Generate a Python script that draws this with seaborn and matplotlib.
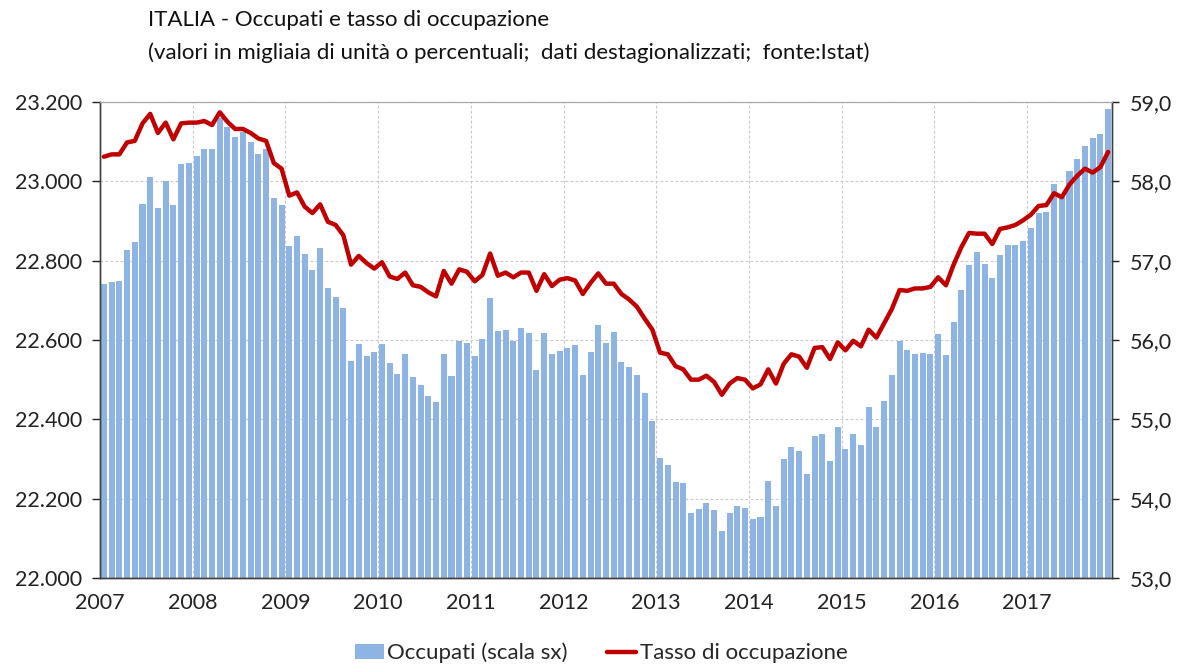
import numpy as np
import pandas as pd
import matplotlib
matplotlib.use("Agg")
import matplotlib.pyplot as plt
from matplotlib.ticker import FuncFormatter, MultipleLocator
from matplotlib.patches import Patch
from matplotlib.lines import Line2D
import seaborn as sns

# occupati (migliaia), mensili gen 2007 - nov 2017
occupati = [
    22741, 22745, 22750, 22826, 22846, 22942, 23012, 22934, 23001, 22940, 23044, 23047,
    23065, 23082, 23082, 23159, 23138, 23112, 23125, 23100, 23069, 23082, 22957, 22940,
    22838, 22861, 22818, 22776, 22832, 22730, 22708, 22681, 22547, 22590, 22559, 22570,
    22590, 22541, 22515, 22564, 22507, 22486, 22460, 22443, 22564, 22509, 22597, 22592,
    22559, 22602, 22707, 22623, 22626, 22597, 22629, 22617, 22524, 22617, 22564, 22573,
    22579, 22587, 22512, 22570, 22637, 22593, 22619, 22544, 22533, 22512, 22466, 22396,
    22302, 22285, 22241, 22239, 22163, 22175, 22188, 22171, 22119, 22163, 22181, 22177,
    22149, 22155, 22245, 22181, 22299, 22329, 22320, 22262, 22358, 22364, 22294, 22381,
    22326, 22364, 22335, 22430, 22381, 22445, 22512, 22597, 22576, 22565, 22567, 22565,
    22614, 22561, 22646, 22725, 22789, 22821, 22792, 22757, 22815, 22839, 22839, 22850,
    22882, 22919, 22923, 22993, 22961, 23025, 23056, 23088, 23108, 23119, 23182,
]

# tasso di occupazione (%)
tasso = [
    58.31, 58.34, 58.34, 58.49, 58.51, 58.73, 58.85, 58.61, 58.74, 58.53, 58.73, 58.74,
    58.74, 58.76, 58.71, 58.87, 58.75, 58.66, 58.66, 58.61, 58.54, 58.51, 58.23, 58.16,
    57.82, 57.86, 57.68, 57.60, 57.71, 57.49, 57.45, 57.32, 56.95, 57.06, 56.97, 56.90,
    56.98, 56.80, 56.77, 56.85, 56.69, 56.67, 56.60, 56.55, 56.87, 56.71, 56.89, 56.86,
    56.74, 56.82, 57.09, 56.81, 56.85, 56.79, 56.85, 56.85, 56.62, 56.83, 56.68, 56.76,
    56.78, 56.75, 56.58, 56.72, 56.84, 56.71, 56.71, 56.58, 56.51, 56.42, 56.27, 56.13,
    55.84, 55.82, 55.67, 55.63, 55.50, 55.50, 55.55, 55.47, 55.31, 55.45, 55.52, 55.50,
    55.39, 55.44, 55.63, 55.45, 55.70, 55.82, 55.79, 55.65, 55.90, 55.91, 55.76, 55.97,
    55.87, 55.99, 55.92, 56.13, 56.03, 56.21, 56.39, 56.63, 56.62, 56.65, 56.65, 56.67,
    56.79, 56.69, 56.95, 57.17, 57.35, 57.34, 57.34, 57.21, 57.40, 57.42, 57.45, 57.51,
    57.58, 57.69, 57.70, 57.85, 57.80, 57.96, 58.07, 58.16, 58.11, 58.18, 58.37,
]

anni = [str(a) for a in range(2007, 2018)]

df = pd.DataFrame({"mese": np.arange(len(occupati)), "occupati": occupati, "tasso": tasso})

sns.set_style("white")
plt.rcParams['font.family'] = ['Lato', 'DejaVu Sans']

blu = "#8DB4E2"
rosso = "#C00000"

fig = plt.figure(figsize=(11.84, 6.66), dpi=100)
ax = fig.add_axes([100 / 1184, 88 / 666, 1012 / 1184, 476 / 666])

sns.barplot(data=df, x="mese", y="occupati", color=blu, width=0.78,
            saturation=1, ax=ax, edgecolor="none")
ax.set_ylim(22000, 23200)
ax.set_xlim(-0.5, len(occupati) - 0.5)
ax.yaxis.set_major_locator(MultipleLocator(200))
ax.yaxis.set_major_formatter(FuncFormatter(lambda v, p: f"{int(v):,}".replace(",", ".")))
ax.set_xticks([12 * k - 0.5 for k in range(len(anni))])
ax.set_xticklabels(anni)
ax.set_xlabel("")
ax.set_ylabel("")
ax.set_axisbelow(True)
ax.grid(True, color="#C8C8C8", linestyle=(0, (2.5, 2)), linewidth=0.8)

ax2 = ax.twinx()
sns.lineplot(data=df, x="mese", y="tasso", color=rosso, linewidth=3.2, ax=ax2)
ax2.set_ylim(53, 59)
ax2.yaxis.set_major_locator(MultipleLocator(1))
ax2.yaxis.set_major_formatter(FuncFormatter(lambda v, p: f"{v:.1f}".replace(".", ",")))
ax2.set_ylabel("")
ax2.set_xlabel("")

for a in (ax, ax2):
    for s in ("left", "bottom", "right"):
        a.spines[s].set_color("#404040")
        a.spines[s].set_linewidth(1.0)
    a.spines["top"].set_color("#A6A6A6")
    a.tick_params(axis="both", labelsize=15.5, colors="#222222", length=6, width=1,
                  direction="out")
ax.tick_params(axis="y", pad=7)
ax.tick_params(axis="x", pad=5)
ax2.tick_params(axis="y", pad=8, length=5)

fig.text(148 / 1184, 1 - 20 / 666, "ITALIA - Occupati e tasso di occupazione",
         fontsize=16, va="center", ha="left", color="#111111")
fig.text(148 / 1184, 1 - 53 / 666,
         "(valori in migliaia di unità o percentuali;  dati destagionalizzati;  fonte:Istat)",
         fontsize=16, va="center", ha="left", color="#111111")

handles = [Patch(facecolor=blu, edgecolor="none"),
           Line2D([0], [0], color=rosso, linewidth=3.2)]
fig.legend(handles, ["Occupati (scala sx)", "Tasso di occupazione"],
           loc="center", bbox_to_anchor=(601 / 1184, 1 - 653 / 666), ncol=2,
           frameon=False, fontsize=16, columnspacing=1.8, handlelength=1.3,
           handletextpad=0.15)

fig.savefig("out.png", dpi=100)
